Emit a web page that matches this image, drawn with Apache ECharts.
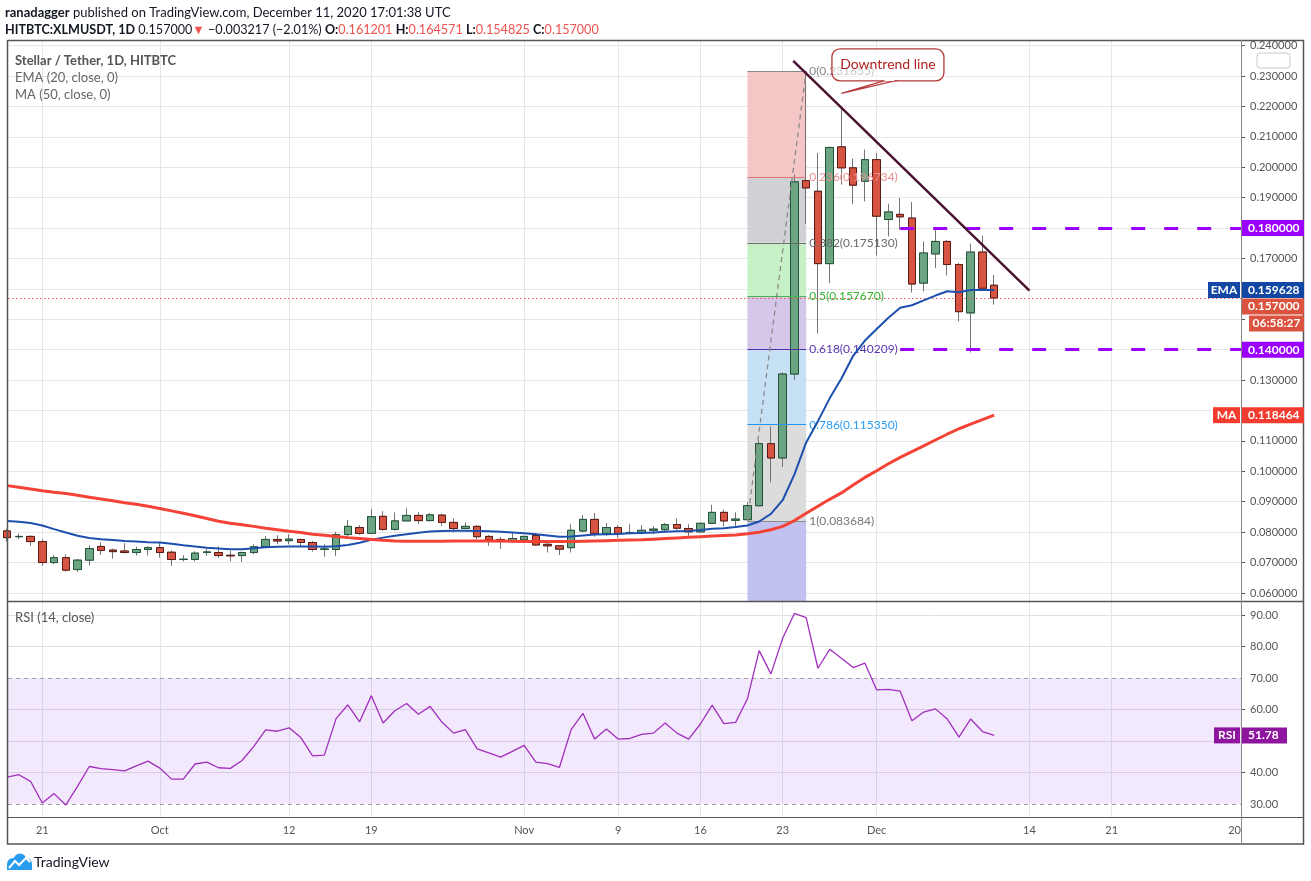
<!DOCTYPE html>
<html><head><meta charset="utf-8">
<script src="https://cdn.jsdelivr.net/npm/echarts@6/dist/echarts.min.js"></script>
<style>html,body{margin:0;padding:0;background:#fff}#c{width:1311px;height:881px}</style>
</head><body><div id="c"></div>
<script>
// ---------------- DATA ----------------
const startDate = '2020-09-18';            // first candle (index 0)
const open = [0.0804,0.0785,0.0786,0.0769,0.0700,0.0716,0.0677,0.0708,0.0753,0.0741,
0.0738,0.0733,0.0743,0.0749,0.0734,0.0710,0.0710,0.0733,0.0733,0.0724,
0.0723,0.0733,0.0753,0.0776,0.0772,0.0776,0.0766,0.0743,0.0743,0.0792,
0.0815,0.0796,0.0852,0.0809,0.0837,0.0855,0.0838,0.0856,0.0832,0.0812,
0.0819,0.0786,0.0776,0.0769,0.0775,0.0789,0.0760,0.0755,0.0749,0.0804,
0.0842,0.0796,0.0815,0.0797,0.0799,0.0806,0.0808,0.0825,0.0812,0.0801,
0.0829,0.0865,0.0839,0.0841,0.0887,0.1091,0.1044,0.1320,0.1956,0.1921,
0.1683,0.2067,0.1998,0.1954,0.2025,0.1828,0.1845,0.1833,0.1619,0.1715,
0.1756,0.1680,0.1521,0.1721,0.161201];
const high = [0.0810,0.0795,0.0790,0.0777,0.0724,0.0727,0.0711,0.0757,0.0766,0.0746,
0.0764,0.0752,0.0754,0.0766,0.0740,0.0724,0.0737,0.0746,0.0753,0.0738,
0.0736,0.0760,0.0787,0.0790,0.0793,0.0777,0.0771,0.0760,0.0801,0.0840,
0.0823,0.0876,0.0869,0.0865,0.0879,0.0866,0.0863,0.0860,0.0845,0.0832,
0.0823,0.0790,0.0784,0.0799,0.0788,0.0797,0.0766,0.0757,0.0826,0.0856,
0.0863,0.0830,0.0823,0.0826,0.0823,0.0819,0.0830,0.0845,0.0826,0.0832,
0.0890,0.0874,0.0865,0.0898,0.1102,0.1148,0.1325,0.1976,0.231655,0.2047,
0.2068,0.2200,0.2028,0.2058,0.2047,0.1880,0.1899,0.1886,0.1756,0.1798,
0.1760,0.1685,0.1749,0.1775,0.164571];
const low = [0.0770,0.0777,0.0755,0.0689,0.0695,0.0670,0.0669,0.0691,0.0725,0.0713,
0.0730,0.0723,0.0723,0.0716,0.0689,0.0704,0.0704,0.0722,0.0715,0.0704,
0.0702,0.0727,0.0749,0.0760,0.0760,0.0755,0.0736,0.0719,0.0722,0.0777,
0.0791,0.0795,0.0805,0.0805,0.0837,0.0827,0.0835,0.0821,0.0799,0.0810,
0.0777,0.0755,0.0745,0.0766,0.0768,0.0755,0.0733,0.0725,0.0733,0.0799,
0.0785,0.0788,0.0782,0.0793,0.0793,0.0793,0.0799,0.0808,0.0788,0.0799,
0.0826,0.0819,0.0819,0.083684,0.0885,0.0964,0.1014,0.1301,0.1814,0.1453,
0.1619,0.1943,0.1879,0.1888,0.1710,0.1773,0.1795,0.1588,0.1592,0.1669,
0.1644,0.1493,0.1391,0.1600,0.154825];
const close = [0.0782,0.0786,0.0769,0.0700,0.0716,0.0675,0.0708,0.0746,0.0740,0.0736,
0.0733,0.0743,0.0749,0.0733,0.0710,0.0711,0.0731,0.0735,0.0723,0.0722,
0.0733,0.0752,0.0776,0.0771,0.0777,0.0766,0.0743,0.0745,0.0792,0.0819,
0.0796,0.0851,0.0809,0.0837,0.0855,0.0838,0.0857,0.0832,0.0812,0.0819,
0.0785,0.0775,0.0769,0.0779,0.0786,0.0758,0.0755,0.0744,0.0806,0.0842,
0.0796,0.0815,0.0796,0.0799,0.0806,0.0810,0.0825,0.0813,0.0801,0.0829,
0.0865,0.0837,0.0843,0.0887,0.1091,0.1044,0.1320,0.1952,0.1932,0.1683,
0.2065,0.1998,0.1941,0.2025,0.1839,0.1853,0.1837,0.1616,0.1718,0.1756,
0.1680,0.1525,0.1721,0.160217,0.157000];
const ema20 = [0.0837,0.0834,0.0830,0.0822,0.0810,0.0799,0.0788,0.0781,0.0777,0.0774,
0.0771,0.0769,0.0767,0.0766,0.0762,0.0757,0.0753,0.0749,0.0746,0.0744,
0.0744,0.0747,0.0750,0.0752,0.0753,0.0753,0.0753,0.0752,0.0754,0.0758,
0.0765,0.0775,0.0782,0.0788,0.0793,0.0798,0.0802,0.0804,0.0805,0.0805,
0.0804,0.0803,0.0801,0.0799,0.0796,0.0793,0.0789,0.0785,0.0786,0.0789,
0.0792,0.0793,0.0794,0.0796,0.0797,0.0799,0.0801,0.0803,0.0804,0.0807,
0.0811,0.0813,0.0817,0.0822,0.0835,0.0860,0.0905,0.0990,0.1095,0.1165,
0.1240,0.1305,0.1380,0.1430,0.1468,0.1505,0.1538,0.1546,0.1562,0.1578,
0.1592,0.1589,0.1596,0.1596,0.1596];
const ma50 = [0.0953,0.0948,0.0942,0.0936,0.0931,0.0927,0.0921,0.0915,0.0909,0.0903,
0.0897,0.0892,0.0885,0.0878,0.0870,0.0862,0.0854,0.0845,0.0836,0.0829,
0.0824,0.0819,0.0813,0.0808,0.0803,0.0799,0.0793,0.0790,0.0786,0.0782,
0.0779,0.0776,0.0773,0.0771,0.0770,0.0770,0.0770,0.0770,0.0771,0.0771,
0.0771,0.0771,0.0771,0.0770,0.0769,0.0769,0.0769,0.0769,0.0769,0.0770,
0.0771,0.0772,0.0773,0.0774,0.0775,0.0777,0.0779,0.0781,0.0783,0.0785,
0.0787,0.0789,0.0791,0.0795,0.0800,0.0808,0.0819,0.0838,0.0862,0.0885,
0.0908,0.0929,0.0955,0.0980,0.1002,0.1025,0.1046,0.1065,0.1084,0.1103,
0.1122,0.1140,0.1155,0.1170,0.1185];
const rsi14 = [38.5,39.3,37.2,30.3,33.3,29.7,35.6,41.9,41.2,40.9,
40.5,42.1,43.6,41.4,37.9,37.9,42.7,43.3,41.5,41.3,
43.8,48.3,53.5,53.1,54.2,51.1,45.3,45.5,57.1,61.5,
56.1,64.4,55.7,59.6,61.9,58.5,61.0,56.0,52.5,53.6,
47.5,46.2,44.9,46.7,48.6,43.3,42.8,41.6,53.6,58.8,
50.6,53.8,50.6,50.8,52.1,52.5,55.7,52.5,50.6,55.4,
61.4,55.5,55.9,63.4,78.7,71.3,82.6,90.5,89.2,73.1,
79.1,76.3,73.3,74.7,66.2,66.4,65.8,56.4,59.2,60.2,
57.0,51.2,57.0,53.0,51.78];
const xTickDates  = ['2020-09-21','2020-10-01','2020-10-12','2020-10-19','2020-11-01','2020-11-09','2020-11-16','2020-11-23','2020-12-01','2020-12-14','2020-12-21','2021-01-01'];
const xTickLabels = ['21','Oct','12','19','Nov','9','16','23','Dec','14','21','2021'];
const priceTicks = [0.06,0.07,0.08,0.09,0.10,0.11,0.12,0.13,0.14,0.15,0.16,0.17,0.18,0.19,0.20,0.21,0.22,0.23,0.24];
const rsiLabelTicks = [30,40,50,60,70,80,90];
const rsiGridTicks = [40,50,60,80,90];
const fibRatios = ['0','0.236','0.382','0.5','0.618','0.786','1'];
const fibValues = [0.231655,0.196734,0.175130,0.157670,0.140209,0.115350,0.083684];
const fibFrom = '2020-11-20', fibTo = '2020-11-25';
const hLevels = [0.18, 0.14];
const hLevelsFrom = '2020-12-03';
const trendFrom = [66.9, 0.2350], trendTo = [87.0, 0.1594];   // [day since start, price]
const calloutTip = [71.0, 0.2243];
const lastPrice = 0.157, emaLast = 0.159628, maLast = 0.118464, rsiLast = 51.78;

// ---------------- HELPERS ----------------
const DAY = 86400000;
const dayIdx = s => Math.round((Date.parse(s) - Date.parse(startDate)) / DAY);
const xTicks = xTickDates.map(dayIdx);
const X_MIN = 0.082, X_MAX = 105.0;
const Y_MIN = 0.05736, Y_MAX = 0.24184;
const R_MIN = 25.87, R_MAX = 94.13;
const FONT = 'Lato, "Open Sans", Roboto, sans-serif';
const GRID = '#e6e6e6';
const WICK = '#737375';
const PURPLE = '#9b00ff';

const fs = dayIdx(fibFrom), fe = dayIdx(fibTo);
const fibFill = ['#f4c6c6','#d0d0d5','#c6f1c6','#d5c7e7','#c5e1f3','#dcdcdc','#c2c2f1'];
const fibLine = ['#8a8a8a','#e57373','#6d6d6d','#4caf50','#512da8','#2196f3','#8a8a8a'];
const fibText = ['#8a8a8a','#ea9090','#6a6a6a','#36b536','#5e35b1','#2a9df4','#777777'];

const fibAreas = [];
for (let k = 0; k < fibValues.length; k++) {
  const lo = k < fibValues.length - 1 ? fibValues[k + 1] : Y_MIN;
  fibAreas.push([{coord:[fs, fibValues[k]], itemStyle:{color:fibFill[k], opacity:1}}, {coord:[fe, lo]}]);
}
const fibLines = fibValues.map((v, k) => [
  {coord:[fs, v], lineStyle:{color:fibLine[k], width:1, type:'solid'},
   label:{show:true, position:'end', distance:3, formatter: fibRatios[k] + '(' + v.toFixed(6) + ')', color:fibText[k], fontSize:12, fontFamily:FONT}},
  {coord:[fe, v]}
]);
fibLines.push([{coord:[fs, fibValues[6]], lineStyle:{color:'#8a8a8a', width:1.3, type:[5,4]}, label:{show:false}}, {coord:[fe, fibValues[0]]}]);

const hs = dayIdx(hLevelsFrom);
const annoLines = [
  [{coord:[X_MIN, lastPrice], lineStyle:{color:'#ef5350', width:1, type:[1.5,2.5]}}, {coord:[X_MAX, lastPrice]}],
  ...hLevels.map(v => [{coord:[hs, v], lineStyle:{color:PURPLE, width:3, type:[14,19]}}, {coord:[X_MAX, v]}]),
  [{coord:trendFrom, lineStyle:{color:'#4a1232', width:2.5, type:'solid'}}, {coord:trendTo}]
];

const option = {
  animation: false,
  textStyle: {fontFamily: FONT},
  grid: [
    {left: 8, top: 40, width: 1233, height: 561},
    {left: 8, top: 602, width: 1233, height: 215}
  ],
  xAxis: [
    {type:'value', gridIndex:0, min:X_MIN, max:X_MAX, axisLine:{show:false},
     axisTick:{show:false, customValues:xTicks}, axisLabel:{show:false},
     splitLine:{show:true, lineStyle:{color:GRID, width:1}}},
    {type:'value', gridIndex:1, min:X_MIN, max:X_MAX, axisLine:{show:false},
     axisTick:{show:false, customValues:xTicks},
     axisLabel:{customValues:xTicks, color:'#555', fontSize:11, margin:8,
       formatter: v => { const i = xTicks.indexOf(Math.round(v)); return i >= 0 ? xTickLabels[i] : ''; }},
     splitLine:{show:true, lineStyle:{color:GRID, width:1}}}
  ],
  yAxis: [
    {type:'value', gridIndex:0, position:'right', min:Y_MIN, max:Y_MAX, axisLine:{show:false},
     axisTick:{show:true, length:4, lineStyle:{color:'#555'}, customValues:priceTicks},
     axisLabel:{customValues:priceTicks, formatter: v => v.toFixed(6), color:'#555', fontSize:11, margin:9},
     splitLine:{show:true, lineStyle:{color:GRID, width:1}}},
    {type:'value', gridIndex:1, position:'right', min:R_MIN, max:R_MAX, axisLine:{show:false},
     axisTick:{show:true, length:4, lineStyle:{color:'#555'}, customValues:rsiGridTicks},
     axisLabel:{customValues:rsiLabelTicks, formatter: v => v.toFixed(2), color:'#555', fontSize:11, margin:9},
     splitLine:{show:true, lineStyle:{color:'#e3dcea', width:1}}}
  ],
  series: [
    {name:'fib', type:'line', xAxisIndex:0, yAxisIndex:0, data:[], z:1, silent:true,
     markArea:{silent:true, data:fibAreas},
     markLine:{silent:true, symbol:['none','none'], data:fibLines}},
    {name:'wicks', type:'candlestick', xAxisIndex:0, yAxisIndex:0, z:3, barWidth:8,
     encode:{x:0, y:[1,2,3,4]},
     data: open.map((o,i) => [i, o, close[i], low[i], high[i]]),
     itemStyle:{color:WICK, color0:WICK, borderColor:WICK, borderColor0:WICK, borderWidth:1}},
    {name:'bodies', type:'candlestick', xAxisIndex:0, yAxisIndex:0, z:4, barWidth:8,
     encode:{x:0, y:[1,2,3,4]},
     data: open.map((o,i) => [i, o, close[i], Math.min(o, close[i]), Math.max(o, close[i])]),
     itemStyle:{color:'#6ba583', color0:'#d75442', borderColor:'#225437', borderColor0:'#5b1a13', borderWidth:1}},
    {name:'EMA', type:'line', xAxisIndex:0, yAxisIndex:0, z:5, symbol:'none', showSymbol:false,
     data: ema20.map((v,i) => [i, v]), lineStyle:{color:'#1c4fae', width:2}},
    {name:'MA', type:'line', xAxisIndex:0, yAxisIndex:0, z:5, symbol:'none', showSymbol:false,
     data: ma50.map((v,i) => [i, v]), lineStyle:{color:'#f44336', width:3}},
    {name:'anno', type:'line', xAxisIndex:0, yAxisIndex:0, data:[], z:6, silent:true,
     markLine:{silent:true, symbol:['none','none'], label:{show:false}, data:annoLines}},
    {name:'RSI', type:'line', xAxisIndex:1, yAxisIndex:1, z:5, symbol:'none', showSymbol:false,
     data: rsi14.map((v,i) => [i, v]), lineStyle:{color:'#a12fbd', width:1.3},
     markArea:{silent:true, data:[[{yAxis:30, itemStyle:{color:'rgba(149,55,230,0.11)'}}, {yAxis:70}]]},
     markLine:{silent:true, symbol:['none','none'], label:{show:false},
       lineStyle:{color:'#a0a0a0', type:[4,4], width:1}, data:[{yAxis:70},{yAxis:30}]}}
  ]
};

const chart = echarts.init(document.getElementById('c'));
chart.setOption(option);

// ---------------- OVERLAY (labels, tags, frame) ----------------
const py = v => chart.convertToPixel({yAxisIndex:0}, v);
const ry = v => chart.convertToPixel({yAxisIndex:1}, v);
const pxd = d => chart.convertToPixel({xAxisIndex:0}, d);
const G = [];
const FR = '#555';
function line(x1,y1,x2,y2,c,w){ G.push({type:'line', z:200, silent:true, shape:{x1,y1,x2,y2}, style:{stroke:c, lineWidth:w||1}}); }
function text(x,y,t,opt){ G.push({type:'text', z:210, silent:true, x, y, style:Object.assign({text:t, fontFamily:FONT, fontSize:13, fill:'#131722', verticalAlign:'middle', align:'left'}, opt||{})}); }
function tag(x, yc, w, t, bg){
  G.push({type:'rect', z:220, silent:true, shape:{x, y:yc-8, width:w, height:16}, style:{fill:bg}});
  G.push({type:'text', z:221, silent:true, x:x+6, y:yc, style:{text:t, fontFamily:FONT, fontSize:12, fontWeight:'bold', fill:'#fff', verticalAlign:'middle', align:'left'}});
}

// cover for clipped x label area
G.push({type:'rect', z:190, silent:true, shape:{x:1242, y:818, width:62, height:26}, style:{fill:'#fff'}});

// frame
line(7.5, 40.5, 1304, 40.5, FR, 1.5);
line(7.5, 40, 7.5, 844.5, FR, 1.5);
line(1303.5, 40, 1303.5, 844.5, FR, 1.5);
line(7.5, 844, 1304, 844, FR, 1.5);
line(7.5, 601.5, 1304, 601.5, FR, 1.5);
line(7.5, 817.5, 1304, 817.5, FR, 1.2);
line(1241.5, 40, 1241.5, 844, '#888', 1);

// header
text(5, 13, '{b|ranadagger} published on TradingView.com, December 11, 2020 17:01:38 UTC', {
  rich:{b:{fontWeight:'bold', fontFamily:FONT, fontSize:13, fill:'#131722'}}});
const R = {fill:'#ef5350', fontFamily:FONT, fontSize:12.6};
const B = {fontWeight:'bold', fontFamily:FONT, fontSize:12.6, fill:'#131722'};
const N = {fontFamily:FONT, fontSize:12.6, fill:'#131722'};
text(5, 30, '{b|HITBTC:XLMUSDT, 1D} {n|0.157000}{r|▼}{n| −0.003217 (−2.01%) }{b|O:}{r|0.161201} {b|H:}{r|0.164571} {b|L:}{r|0.154825} {b|C:}{r|0.157000}', {rich:{b:B, r:R, n:N}, fontSize:12.6});

// legends
text(15, 61, 'Stellar / Tether, 1D, HITBTC', {fill:'#555', fontWeight:'bold', fontSize:13});
text(15, 78, 'EMA (20, close, 0)', {fill:'#666', fontSize:13});
text(15, 95, 'MA (50, close, 0)', {fill:'#666', fontSize:13});
text(15, 618, 'RSI (14, close)', {fill:'#555', fontSize:13});

// USDT box
G.push({type:'rect', z:220, silent:true, shape:{x:1257, y:53, width:33, height:15, r:3}, style:{fill:'#fff', stroke:'#c8c8c8', lineWidth:1}});
text(1273.5, 60.5, 'USDT', {fill:'#666', fontSize:10, align:'center'});

// price tags with overlap avoidance
const tags = [
  {v:hLevels[0], t:hLevels[0].toFixed(6), bg:PURPLE},
  {v:emaLast, t:emaLast.toFixed(6), bg:'#1247a3', side:'EMA'},
  {v:lastPrice, t:lastPrice.toFixed(6), bg:'#d9533f', countdown:'06:58:27'},
  {v:hLevels[1], t:hLevels[1].toFixed(6), bg:PURPLE},
  {v:maLast, t:maLast.toFixed(6), bg:'#f23c2f', side:'MA'}
].map(o => Object.assign(o, {y: py(o.v)})).sort((a,b) => a.y - b.y);
const tagCenters = [];
let prevBottom = -1e9;
tags.forEach(o => {
  let y = Math.max(o.y, prevBottom + 8.5);
  tagCenters.push(y);
  tag(1242, y, 62, o.t, o.bg);
  line(1242, y, 1246, y, '#fff', 1);
  if (o.side) {
    const w = o.side === 'EMA' ? 33 : 28;
    G.push({type:'rect', z:220, silent:true, shape:{x:1241-w, y:y-8, width:w-1, height:16}, style:{fill:o.bg}});
    G.push({type:'text', z:221, silent:true, x:1241-w/2-0.5, y, style:{text:o.side, fontFamily:FONT, fontSize:12, fontWeight:'bold', fill:'#fff', align:'center', verticalAlign:'middle'}});
  }
  prevBottom = y + 8;
  if (o.countdown) {
    const yc = prevBottom + 9;
    tagCenters.push(yc);
    G.push({type:'rect', z:220, silent:true, shape:{x:1249, y:yc-8, width:55, height:16}, style:{fill:o.bg}});
    G.push({type:'text', z:221, silent:true, x:1276.5, y:yc, style:{text:o.countdown, fontFamily:FONT, fontSize:12, fontWeight:'bold', fill:'#fff', align:'center', verticalAlign:'middle'}});
    prevBottom = yc + 8;
  }
});
// axis labels hidden under tags (as the price scale does)
const visiblePriceLabels = priceTicks.filter(v => tagCenters.every(c => Math.abs(py(v) - c) > 11));

// RSI tag
const ryv = ry(rsiLast);
const visibleRsiLabels = rsiLabelTicks.filter(v => Math.abs(ry(v) - ryv) > 11);
G.push({type:'rect', z:220, silent:true, shape:{x:1214, y:ryv-8, width:26, height:16}, style:{fill:'#8e169f'}});
G.push({type:'text', z:221, silent:true, x:1227, y:ryv, style:{text:'RSI', fontFamily:FONT, fontSize:12, fontWeight:'bold', fill:'#fff', align:'center', verticalAlign:'middle'}});
tag(1242, ryv, 45, rsiLast.toFixed(2), '#8e169f');
line(1242, ryv, 1246, ryv, '#fff', 1);

// callout "Downtrend line"
const tipX = pxd(calloutTip[0]), tipY = py(calloutTip[1]);
const bx = tipX - 9.5, by = tipY - 44.5, bw = 112, bh = 32;
G.push({type:'rect', z:230, silent:true, shape:{x:bx, y:by, width:bw, height:bh, r:8}, style:{fill:'rgba(255,255,255,0.55)', stroke:'#b5393c', lineWidth:1.3}});
G.push({type:'polygon', z:231, silent:true, shape:{points:[[tipX, tipY],[bx+52, by+bh],[bx+63, by+bh]]}, style:{fill:'#fff', stroke:'#b5393c', lineWidth:1.2}});
G.push({type:'line', z:232, silent:true, shape:{x1:bx+52.6, y1:by+bh-0.5, x2:bx+62.4, y2:by+bh-0.5}, style:{stroke:'#fff', lineWidth:1.5}});
G.push({type:'text', z:233, silent:true, x:bx+bw/2, y:by+bh/2, style:{text:'Downtrend line', fontFamily:FONT, fontSize:14, fill:'#b22222', align:'center', verticalAlign:'middle'}});

// TradingView logo (simple cloud + line)
G.push({type:'circle', z:220, silent:true, shape:{cx:13, cy:864, r:6}, style:{fill:'#2a9cf0'}});
G.push({type:'circle', z:220, silent:true, shape:{cx:20, cy:860, r:6.5}, style:{fill:'#2a9cf0'}});
G.push({type:'circle', z:220, silent:true, shape:{cx:26, cy:864, r:6}, style:{fill:'#2a9cf0'}});
G.push({type:'rect', z:220, silent:true, shape:{x:7, y:864, width:25, height:6}, style:{fill:'#2a9cf0'}});
G.push({type:'polyline', z:221, silent:true, shape:{points:[[9,868],[15,861],[19,865],[26,858],[30,862]]}, style:{stroke:'#fff', lineWidth:2, fill:null}});
text(34, 862, 'TradingView', {fill:'#131722', fontSize:14});

chart.setOption({
  graphic: G,
  yAxis: [
    {axisLabel:{customValues: visiblePriceLabels}},
    {axisLabel:{customValues: visibleRsiLabels}}
  ]
});
</script>
</body></html>
